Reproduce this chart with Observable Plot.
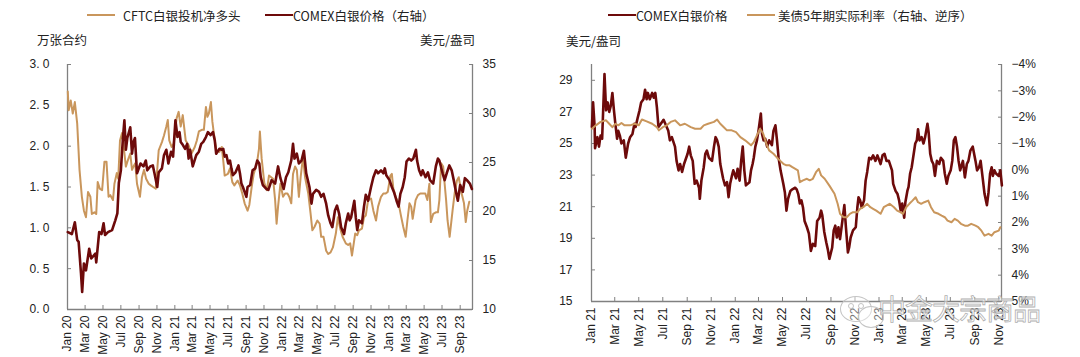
<!DOCTYPE html>
<html><head><meta charset="utf-8">
<script src="https://cdn.jsdelivr.net/npm/d3@7"></script>
<script src="https://cdn.jsdelivr.net/npm/@observablehq/plot@0.6"></script>
<style>
body{margin:0;background:#fff;}
#wrap{position:relative;width:1080px;height:357px;overflow:hidden;font-family:"Noto Sans CJK SC",sans-serif;color:#222;}
.panel{position:absolute;top:0;width:540px;height:357px;}
.panel svg{position:absolute;left:0;top:0;}
.item{position:absolute;top:5px;height:20px;display:flex;align-items:center;font-size:12.5px;white-space:nowrap;}
.sw{display:inline-block;width:28px;height:2.5px;}
.unit{position:absolute;font-size:12.5px;white-space:nowrap;}
.wm{position:absolute;font-size:30px;color:rgba(255,255,255,0.5);-webkit-text-stroke:0.8px #b0b0b0;white-space:nowrap;letter-spacing:-1px;}
.bubble{position:absolute;border:1px solid #c4c4c4;border-radius:50%;background:rgba(255,255,255,0.4);}
.dot{position:absolute;width:4px;height:4px;border:1px solid #c4c4c4;border-radius:50%;}
</style></head>
<body><div id="wrap">
<div class="panel" id="p1" style="left:0"></div>
<div class="panel" id="p2" style="left:540px"></div>
</div>
<script>
// ---------- data ----------
const cftcNetLong = [["2020-01-02",2.67],["2020-01-05",2.44],["2020-01-12",2.56],["2020-01-19",2.40],["2020-01-26",2.54],["2020-02-03",2.28],["2020-02-11",1.71],["2020-02-19",1.38],["2020-02-26",1.21],["2020-03-04",1.13],["2020-03-11",1.44],["2020-03-19",1.38],["2020-03-24",1.17],["2020-04-02",1.19],["2020-04-08",1.17],["2020-04-13",1.56],["2020-04-20",1.48],["2020-04-28",1.46],["2020-05-06",1.81],["2020-05-13",1.81],["2020-05-20",1.38],["2020-05-26",1.40],["2020-06-04",1.34],["2020-06-09",1.54],["2020-06-17",1.67],["2020-06-22",1.60],["2020-06-28",2.07],["2020-07-05",2.16],["2020-07-12",1.95],["2020-07-18",1.75],["2020-07-25",1.83],["2020-08-02",1.91],["2020-08-08",1.71],["2020-08-13",1.75],["2020-08-19",1.79],["2020-08-25",1.54],["2020-09-04",1.38],["2020-09-11",1.62],["2020-09-18",1.71],["2020-09-25",1.60],["2020-10-04",1.54],["2020-10-11",1.52],["2020-10-19",1.50],["2020-10-28",1.48],["2020-11-07",1.95],["2020-11-18",2.05],["2020-11-25",2.13],["2020-12-03",2.24],["2020-12-08",2.32],["2020-12-13",2.07],["2020-12-21",1.99],["2020-12-28",2.03],["2021-01-07",2.34],["2021-01-14",2.42],["2021-01-21",2.24],["2021-01-28",2.38],["2021-02-07",2.07],["2021-02-17",2.01],["2021-02-27",1.91],["2021-03-10",1.99],["2021-03-17",2.07],["2021-03-24",2.18],["2021-04-03",2.20],["2021-04-10",2.20],["2021-04-17",2.48],["2021-04-22",2.36],["2021-04-27",2.40],["2021-05-04",2.54],["2021-05-09",2.30],["2021-05-14",2.16],["2021-05-22",1.95],["2021-06-02",1.93],["2021-06-10",1.99],["2021-06-15",1.83],["2021-06-20",1.64],["2021-07-01",1.66],["2021-07-08",1.73],["2021-07-16",1.56],["2021-07-23",1.52],["2021-08-03",1.58],["2021-08-11",1.52],["2021-08-19",1.42],["2021-08-27",1.30],["2021-09-06",1.21],["2021-09-12",1.28],["2021-09-20",1.50],["2021-09-27",1.66],["2021-10-08",1.79],["2021-10-15",1.97],["2021-10-18",2.18],["2021-10-24",1.85],["2021-11-02",1.55],["2021-11-11",1.46],["2021-11-18",1.64],["2021-12-02",1.60],["2021-12-09",1.34],["2021-12-14",1.05],["2021-12-19",1.26],["2021-12-27",1.54],["2022-01-05",1.38],["2022-01-12",1.42],["2022-01-20",1.42],["2022-01-26",1.38],["2022-02-02",1.30],["2022-02-08",1.66],["2022-02-15",1.75],["2022-02-21",1.71],["2022-02-28",1.38],["2022-03-06",1.62],["2022-03-14",1.87],["2022-03-21",1.62],["2022-04-01",1.42],["2022-04-09",1.17],["2022-04-15",0.97],["2022-04-22",1.01],["2022-05-02",1.09],["2022-05-10",1.05],["2022-05-15",0.89],["2022-05-23",0.89],["2022-06-01",0.72],["2022-06-08",0.68],["2022-06-16",0.70],["2022-06-24",0.76],["2022-07-04",0.93],["2022-07-11",1.13],["2022-07-19",0.99],["2022-07-27",0.89],["2022-08-07",0.81],["2022-08-15",0.79],["2022-08-22",0.81],["2022-08-28",0.66],["2022-09-08",0.93],["2022-09-15",0.91],["2022-09-21",0.97],["2022-10-01",0.99],["2022-10-08",1.13],["2022-10-14",1.15],["2022-10-22",1.34],["2022-11-01",1.36],["2022-11-09",1.21],["2022-11-18",1.09],["2022-11-25",1.26],["2022-12-05",1.38],["2022-12-13",1.42],["2022-12-21",1.42],["2022-12-28",1.44],["2023-01-06",1.64],["2023-01-11",1.66],["2023-01-16",1.48],["2023-01-24",1.38],["2023-02-03",1.30],["2023-02-11",1.15],["2023-02-19",1.01],["2023-02-27",0.89],["2023-03-05",1.09],["2023-03-12",1.30],["2023-03-18",1.26],["2023-03-23",1.11],["2023-04-02",1.34],["2023-04-10",1.40],["2023-04-18",1.42],["2023-04-26",1.42],["2023-05-05",1.42],["2023-05-12",1.34],["2023-05-19",1.54],["2023-05-24",1.07],["2023-06-01",1.17],["2023-06-10",1.19],["2023-06-17",1.19],["2023-06-22",1.34],["2023-06-28",1.79],["2023-07-05",1.75],["2023-07-10",1.54],["2023-07-15",1.34],["2023-07-20",1.09],["2023-07-27",0.89],["2023-08-06",1.21],["2023-08-13",1.42],["2023-08-21",1.58],["2023-08-27",1.62],["2023-09-06",1.42],["2023-09-14",1.30],["2023-09-20",1.07],["2023-09-25",1.21],["2023-10-02",1.32]];

const comexPriceA = [["2020-01-02",17.9],["2020-01-16",17.7],["2020-01-26",18.9],["2020-02-03",17.1],["2020-02-08",16.9],["2020-02-16",13.7],["2020-02-20",11.8],["2020-02-26",14.7],["2020-03-04",14.0],["2020-03-15",16.2],["2020-03-22",15.2],["2020-04-05",15.7],["2020-04-08",14.8],["2020-04-18",17.9],["2020-04-26",17.7],["2020-05-03",18.8],["2020-05-08",17.6],["2020-05-18",17.9],["2020-06-01",18.1],["2020-06-12",19.1],["2020-06-19",19.8],["2020-06-24",22.9],["2020-07-01",24.2],["2020-07-08",27.5],["2020-07-13",29.3],["2020-07-18",26.3],["2020-07-23",27.5],["2020-08-02",28.6],["2020-08-08",25.9],["2020-08-13",27.1],["2020-08-18",27.5],["2020-08-25",23.9],["2020-09-06",24.9],["2020-09-16",24.6],["2020-09-24",25.2],["2020-09-29",24.2],["2020-10-09",24.6],["2020-10-18",24.7],["2020-10-25",23.7],["2020-11-02",22.5],["2020-11-07",24.0],["2020-11-18",24.4],["2020-11-25",25.75],["2020-12-03",26.3],["2020-12-10",24.9],["2020-12-19",26.1],["2020-12-26",25.6],["2021-01-03",29.3],["2021-01-10",27.6],["2021-01-17",28.1],["2021-01-21",27.1],["2021-01-28",26.8],["2021-02-05",26.4],["2021-02-12",26.9],["2021-02-17",25.4],["2021-02-22",26.3],["2021-03-03",24.6],["2021-03-08",25.1],["2021-03-15",25.75],["2021-03-24",26.1],["2021-04-01",26.9],["2021-04-08",27.1],["2021-04-17",27.6],["2021-04-24",28.1],["2021-05-03",27.8],["2021-05-11",28.1],["2021-05-17",27.3],["2021-05-22",25.9],["2021-06-02",26.4],["2021-06-10",26.3],["2021-06-15",26.4],["2021-06-20",25.6],["2021-06-26",25.75],["2021-07-02",24.9],["2021-07-08",25.2],["2021-07-13",24.4],["2021-07-18",23.7],["2021-07-27",24.0],["2021-08-06",24.7],["2021-08-11",23.9],["2021-08-16",22.85],["2021-08-21",22.5],["2021-09-02",21.5],["2021-09-06",22.5],["2021-09-15",22.7],["2021-09-23",24.2],["2021-10-02",24.4],["2021-10-09",25.2],["2021-10-16",24.9],["2021-10-21",23.5],["2021-10-28",22.7],["2021-11-09",22.3],["2021-11-16",22.2],["2021-11-27",23.2],["2021-12-09",22.85],["2021-12-19",24.6],["2021-12-27",23.4],["2022-01-07",22.3],["2022-01-15",23.5],["2022-01-23",24.0],["2022-02-02",25.2],["2022-02-08",26.9],["2022-02-13",25.4],["2022-02-21",25.9],["2022-02-28",24.9],["2022-03-09",25.2],["2022-03-17",26.2],["2022-03-25",23.9],["2022-04-05",22.5],["2022-04-12",20.8],["2022-04-17",21.8],["2022-04-28",22.2],["2022-05-08",22.0],["2022-05-15",21.5],["2022-05-23",21.8],["2022-06-01",20.8],["2022-06-08",19.6],["2022-06-16",18.8],["2022-06-22",18.4],["2022-07-01",20.1],["2022-07-08",20.6],["2022-07-15",19.8],["2022-07-22",18.4],["2022-08-01",17.7],["2022-08-07",18.8],["2022-08-15",19.8],["2022-08-20",19.1],["2022-08-25",19.4],["2022-09-05",21.1],["2022-09-10",19.4],["2022-09-15",18.1],["2022-09-21",19.1],["2022-10-01",18.8],["2022-10-08",20.5],["2022-10-14",21.7],["2022-10-22",21.1],["2022-11-01",22.5],["2022-11-09",23.5],["2022-11-18",24.2],["2022-11-25",23.9],["2022-12-05",24.2],["2022-12-13",23.9],["2022-12-18",24.4],["2022-12-23",23.7],["2023-01-03",23.2],["2023-01-11",22.5],["2023-01-18",22.0],["2023-01-27",21.1],["2023-02-03",20.5],["2023-02-09",21.8],["2023-02-17",22.5],["2023-02-24",23.5],["2023-03-02",25.1],["2023-03-10",25.4],["2023-03-18",25.2],["2023-03-25",25.4],["2023-04-03",26.3],["2023-04-07",25.2],["2023-04-14",24.2],["2023-04-21",23.7],["2023-04-26",24.2],["2023-05-06",23.5],["2023-05-14",24.0],["2023-05-21",23.2],["2023-06-01",22.85],["2023-06-10",24.6],["2023-06-17",25.4],["2023-06-22",25.2],["2023-07-03",23.9],["2023-07-10",23.2],["2023-07-17",23.9],["2023-07-26",24.7],["2023-08-03",24.2],["2023-08-10",23.2],["2023-08-19",21.8],["2023-08-24",21.1],["2023-09-01",22.7],["2023-09-10",22.0],["2023-09-17",23.4],["2023-09-24",23.2],["2023-10-04",22.85],["2023-10-11",22.3]];

const comexPriceB = [["2021-01-02",26.05],["2021-01-05",27.6],["2021-01-09",26.05],["2021-01-10",24.7],["2021-01-16",25.4],["2021-01-20",24.8],["2021-01-24",25.5],["2021-01-28",25.3],["2021-02-03",29.4],["2021-02-07",27.1],["2021-02-11",27.6],["2021-02-15",27.0],["2021-02-19",27.4],["2021-02-23",28.2],["2021-02-27",27.1],["2021-03-03",26.15],["2021-03-07",25.3],["2021-03-10",25.8],["2021-03-14",25.5],["2021-03-18",25.0],["2021-03-24",25.2],["2021-03-29",24.1],["2021-04-04",25.0],["2021-04-09",25.4],["2021-04-15",25.6],["2021-04-20",26.25],["2021-04-23",26.05],["2021-04-28",26.6],["2021-05-03",27.1],["2021-05-07",27.6],["2021-05-13",27.8],["2021-05-17",28.4],["2021-05-21",27.8],["2021-05-24",28.2],["2021-05-29",27.8],["2021-06-04",28.2],["2021-06-08",27.9],["2021-06-12",28.2],["2021-06-16",27.3],["2021-06-20",26.05],["2021-06-26",26.25],["2021-07-03",26.5],["2021-07-09",26.15],["2021-07-15",25.8],["2021-07-19",25.2],["2021-07-24",25.4],["2021-08-01",24.8],["2021-08-05",23.9],["2021-08-10",23.3],["2021-08-14",23.7],["2021-08-19",23.2],["2021-08-24",23.7],["2021-09-02",24.35],["2021-09-06",24.8],["2021-09-10",24.25],["2021-09-15",23.9],["2021-09-20",22.45],["2021-09-25",22.65],["2021-10-01",22.2],["2021-10-03",21.5],["2021-10-07",22.65],["2021-10-13",23.5],["2021-10-17",24.35],["2021-10-21",24.55],["2021-10-26",24.1],["2021-11-03",23.9],["2021-11-08",24.8],["2021-11-12",25.4],["2021-11-16",25.2],["2021-11-20",24.8],["2021-11-24",23.7],["2021-12-01",22.8],["2021-12-06",22.35],["2021-12-11",22.55],["2021-12-15",21.6],["2021-12-19",22.45],["2021-12-23",22.9],["2021-12-27",23.3],["2022-01-03",22.8],["2022-01-07",23.4],["2022-01-12",22.65],["2022-01-16",23.9],["2022-01-20",24.8],["2022-01-24",23.3],["2022-01-28",22.35],["2022-02-06",22.55],["2022-02-10",23.3],["2022-02-14",23.7],["2022-02-17",24.1],["2022-02-21",24.8],["2022-02-25",25.2],["2022-03-01",25.8],["2022-03-07",26.9],["2022-03-10",25.6],["2022-03-14",25.2],["2022-03-18",25.3],["2022-03-23",24.8],["2022-03-28",25.2],["2022-04-04",24.9],["2022-04-08",25.8],["2022-04-13",26.15],["2022-04-17",25.2],["2022-04-21",24.1],["2022-04-26",23.3],["2022-05-03",22.45],["2022-05-07",21.9],["2022-05-11",20.75],["2022-05-15",21.5],["2022-05-21",22.0],["2022-05-26",22.1],["2022-06-02",22.2],["2022-06-06",22.1],["2022-06-10",21.8],["2022-06-14",21.2],["2022-06-18",21.4],["2022-06-22",20.95],["2022-06-26",20.1],["2022-07-02",19.7],["2022-07-07",19.3],["2022-07-12",18.2],["2022-07-17",18.65],["2022-07-23",18.5],["2022-07-28",20.1],["2022-08-03",20.3],["2022-08-07",20.75],["2022-08-10",20.45],["2022-08-15",19.4],["2022-08-20",18.75],["2022-08-24",18.3],["2022-08-28",17.7],["2022-09-04",18.4],["2022-09-08",19.5],["2022-09-12",19.8],["2022-09-16",19.05],["2022-09-20",19.7],["2022-09-24",18.95],["2022-10-01",20.3],["2022-10-05",21.1],["2022-10-09",19.7],["2022-10-14",18.1],["2022-10-17",18.4],["2022-10-21",19.05],["2022-10-27",19.5],["2022-11-03",19.7],["2022-11-07",20.95],["2022-11-10",21.6],["2022-11-14",21.4],["2022-11-18",20.95],["2022-11-24",21.4],["2022-11-28",22.65],["2022-12-02",23.2],["2022-12-07",24.1],["2022-12-12",24.0],["2022-12-17",24.25],["2022-12-23",23.9],["2022-12-28",24.25],["2023-01-05",23.7],["2023-01-10",24.25],["2023-01-15",24.35],["2023-01-20",23.9],["2023-01-26",23.9],["2023-02-03",23.3],["2023-02-06",22.45],["2023-02-12",22.0],["2023-02-17",21.8],["2023-02-21",21.4],["2023-02-25",20.75],["2023-03-01",21.2],["2023-03-06",20.3],["2023-03-09",21.3],["2023-03-14",22.0],["2023-03-17",22.25],["2023-03-21",23.1],["2023-03-25",23.5],["2023-04-03",25.0],["2023-04-07",25.2],["2023-04-10",25.9],["2023-04-14",25.2],["2023-04-19",25.4],["2023-04-24",25.0],["2023-04-28",25.4],["2023-05-04",26.25],["2023-05-07",25.7],["2023-05-11",24.35],["2023-05-15",23.9],["2023-05-19",23.7],["2023-05-23",22.95],["2023-05-28",23.9],["2023-06-03",23.7],["2023-06-07",24.1],["2023-06-13",23.9],["2023-06-17",23.1],["2023-06-22",22.45],["2023-06-26",22.95],["2023-07-02",23.3],["2023-07-06",23.9],["2023-07-10",25.2],["2023-07-14",25.4],["2023-07-18",24.8],["2023-07-22",23.9],["2023-07-26",23.3],["2023-08-02",23.9],["2023-08-07",22.85],["2023-08-12",23.7],["2023-08-16",23.9],["2023-08-21",24.55],["2023-08-27",24.8],["2023-09-03",23.9],["2023-09-07",23.3],["2023-09-12",23.5],["2023-09-16",23.9],["2023-09-22",22.65],["2023-09-26",21.8],["2023-10-02",21.1],["2023-10-06",21.9],["2023-10-10",23.1],["2023-10-14",23.5],["2023-10-17",22.95],["2023-10-21",23.3],["2023-10-25",23.1],["2023-11-01",22.95],["2023-11-05",23.3],["2023-11-09",22.35]];

const realRate5y = [["2021-01-02",-1.56],["2021-01-12",-1.69],["2021-01-24",-1.82],["2021-02-07",-1.88],["2021-02-15",-1.75],["2021-02-23",-1.62],["2021-03-03",-1.75],["2021-03-10",-1.69],["2021-03-18",-1.78],["2021-03-26",-1.69],["2021-04-09",-1.69],["2021-04-21",-1.75],["2021-05-01",-1.69],["2021-05-09",-1.91],["2021-05-21",-1.84],["2021-06-04",-1.75],["2021-06-16",-1.62],["2021-06-21",-1.50],["2021-07-01",-1.62],["2021-07-11",-1.69],["2021-07-21",-1.82],["2021-08-01",-1.88],["2021-08-14",-1.69],["2021-08-26",-1.75],["2021-09-10",-1.62],["2021-09-21",-1.56],["2021-10-05",-1.56],["2021-10-13",-1.69],["2021-10-24",-1.75],["2021-11-08",-1.82],["2021-11-16",-1.91],["2021-11-24",-1.75],["2021-12-03",-1.62],["2021-12-11",-1.50],["2021-12-23",-1.50],["2022-01-03",-1.43],["2022-01-14",-1.24],["2022-01-26",-1.12],["2022-02-10",-0.93],["2022-02-17",-1.05],["2022-02-25",-1.31],["2022-03-05",-1.56],["2022-03-13",-1.37],["2022-03-21",-0.99],["2022-03-28",-0.74],["2022-04-08",-0.61],["2022-04-16",-0.48],["2022-04-24",-0.36],["2022-05-03",-0.23],["2022-05-11",-0.17],["2022-05-19",-0.17],["2022-05-26",-0.10],["2022-06-09",0.02],["2022-06-14",0.47],["2022-06-22",0.40],["2022-07-02",0.34],["2022-07-09",0.40],["2022-07-17",0.34],["2022-07-25",0.09],["2022-08-01",-0.04],["2022-08-07",0.21],["2022-08-16",0.34],["2022-08-28",0.60],["2022-09-10",0.91],["2022-09-18",1.29],["2022-09-24",1.67],["2022-10-03",1.80],["2022-10-11",1.80],["2022-10-19",1.67],["2022-10-27",1.61],["2022-11-07",1.61],["2022-11-14",1.48],["2022-11-22",1.42],["2022-12-02",1.29],["2022-12-10",1.42],["2022-12-17",1.48],["2022-12-25",1.55],["2023-01-05",1.67],["2023-01-13",1.42],["2023-01-20",1.36],["2023-01-28",1.29],["2023-02-08",1.42],["2023-02-16",1.55],["2023-02-24",1.61],["2023-03-03",1.67],["2023-03-11",1.42],["2023-03-19",1.29],["2023-03-27",1.17],["2023-04-04",1.04],["2023-04-10",1.23],["2023-04-18",1.29],["2023-04-26",1.23],["2023-05-06",1.17],["2023-05-13",1.42],["2023-05-21",1.61],["2023-06-01",1.67],["2023-06-09",1.74],["2023-06-17",1.80],["2023-06-24",1.93],["2023-07-04",1.99],["2023-07-12",1.86],["2023-07-20",1.93],["2023-07-28",2.05],["2023-08-07",2.12],["2023-08-15",2.12],["2023-08-23",2.05],["2023-09-03",2.12],["2023-09-10",2.18],["2023-09-18",2.31],["2023-09-26",2.50],["2023-10-06",2.43],["2023-10-14",2.50],["2023-10-21",2.37],["2023-11-01",2.31],["2023-11-05",2.18]];

const cftcTicks = [0, 0.5, 1, 1.5, 2, 2.5, 3];
const priceTicksA = [10, 15, 20, 25, 30, 35];
const priceTicksB = [15, 17, 19, 21, 23, 25, 27, 29];
const rateTicks = [-4, -3, -2, -1, 0, 1, 2, 3, 4, 5];
const xDomainA = ["2020-01-01", "2023-10-13"];
const xDomainB = ["2021-01-01", "2023-11-08"];
const xTicksA = d3.utcMonth.every(2).range(new Date("2020-01-01"), new Date("2023-09-02"));
const xTicksB = d3.utcMonth.every(2).range(new Date("2021-01-01"), new Date("2023-11-02"));

const legendA = ["CFTC白银投机净多头", "COMEX白银价格（右轴）"];
const legendB = ["COMEX白银价格", "美债5年期实际利率（右轴、逆序）"];
const unitsA = ["万张合约", "美元/盎司"];
const unitsB = ["美元/盎司"];
const watermark = "中金大宗商品";

// ---------- style ----------
const orange = "#c9965c", dark = "#6d0a0a", gray = "#808080", ink = "#222";
const tbl = arr => arr.map(([d, v]) => ({date: new Date(d), v}));
const monthFmt = d3.utcFormat("%b %y");
const plotStyle = {fontSize: "12px", fontFamily: "'Liberation Sans', Arial, sans-serif", color: ink, background: "transparent", overflow: "visible"};

// ---------- left panel ----------
{
  const cftcDom = [0, 3], pDom = [10, 35];
  const toL = p => (p - pDom[0]) / (pDom[1] - pDom[0]) * (cftcDom[1] - cftcDom[0]) + cftcDom[0];
  const fromL = v => (v - cftcDom[0]) / (cftcDom[1] - cftcDom[0]) * (pDom[1] - pDom[0]) + pDom[0];
  const xd = xDomainA.map(d => new Date(d));
  const chart = Plot.plot({
    width: 540, height: 357,
    marginLeft: 67, marginRight: 68, marginTop: 64, marginBottom: 48,
    style: plotStyle,
    x: {type: "utc", domain: xd},
    y: {domain: cftcDom},
    marks: [
      Plot.ruleY([cftcDom[0]], {stroke: gray, strokeWidth: 1.3}),
      Plot.ruleX([xd[0]], {stroke: gray, strokeWidth: 1.3}),
      Plot.ruleX([xd[1]], {stroke: gray, strokeWidth: 1.3}),
      Plot.axisY({anchor: "left", ticks: cftcTicks, tickSize: -4, tickPadding: 22, label: null,
        tickFormat: d => d.toFixed(1).replace(".", ". "), stroke: gray, fill: ink}),
      Plot.axisY({anchor: "right", ticks: priceTicksA.map(toL), tickSize: -4, tickPadding: 14, label: null,
        tickFormat: v => String(Math.round(fromL(v))), stroke: gray, fill: ink}),
      Plot.axisX({ticks: xTicksA, tickFormat: monthFmt, tickRotate: -90, tickSize: -4, tickPadding: 10, label: null,
        stroke: gray, fill: ink}),
      Plot.line(tbl(cftcNetLong), {x: "date", y: "v", stroke: orange, strokeWidth: 2, strokeLinejoin: "round"}),
      Plot.line(tbl(comexPriceA), {x: "date", y: d => toL(d.v), stroke: dark, strokeWidth: 2.6, strokeLinejoin: "round"})
    ]
  });
  const p = document.getElementById("p1");
  p.appendChild(chart);
  p.insertAdjacentHTML("beforeend",
    `<div class="item" style="left:87px"><span class="sw" style="background:${orange}"></span><span style="margin-left:8px">${legendA[0]}</span></div>
     <div class="item" style="left:265px"><span class="sw" style="background:${dark}"></span><span>${legendA[1]}</span></div>
     <div class="unit" style="left:37px;top:30px">${unitsA[0]}</div>
     <div class="unit" style="left:420px;top:30px">${unitsA[1]}</div>`);
}

// ---------- right panel ----------
{
  const pDom = [15, 30], rDom = [-4, 5];
  const toP = r => pDom[1] - (r - rDom[0]) / (rDom[1] - rDom[0]) * (pDom[1] - pDom[0]);
  const fromP = v => rDom[0] + (pDom[1] - v) / (pDom[1] - pDom[0]) * (rDom[1] - rDom[0]);
  const xd = xDomainB.map(d => new Date(d));
  const chart = Plot.plot({
    width: 540, height: 357,
    marginLeft: 51, marginRight: 79, marginTop: 64, marginBottom: 56,
    style: plotStyle,
    x: {type: "utc", domain: xd},
    y: {domain: pDom},
    marks: [
      Plot.ruleY([pDom[0]], {stroke: gray, strokeWidth: 1.3}),
      Plot.ruleX([xd[0]], {stroke: gray, strokeWidth: 1.3}),
      Plot.ruleX([xd[1]], {stroke: gray, strokeWidth: 1.3}),
      Plot.axisY({anchor: "left", ticks: priceTicksB, tickSize: -4, tickPadding: 23, label: null,
        tickFormat: d => String(d), stroke: gray, fill: ink}),
      Plot.axisY({anchor: "right", ticks: rateTicks.map(toP), tickSize: -4, tickPadding: 14, label: null,
        tickFormat: v => { const r = Math.round(fromP(v)); return (r < 0 ? "\u2212" + (-r) : r) + "%"; }, stroke: gray, fill: ink}),
      Plot.axisX({ticks: xTicksB, tickFormat: monthFmt, tickRotate: -90, tickSize: -4, tickPadding: 10, label: null,
        stroke: gray, fill: ink}),
      Plot.line(tbl(comexPriceB), {x: "date", y: "v", stroke: dark, strokeWidth: 2.6, strokeLinejoin: "round"}),
      Plot.line(tbl(realRate5y), {x: "date", y: d => toP(d.v), stroke: orange, strokeWidth: 2, strokeLinejoin: "round"})
    ]
  });
  const p = document.getElementById("p2");
  p.appendChild(chart);
  p.insertAdjacentHTML("beforeend",
    `<div class="item" style="left:68px"><span class="sw" style="background:${dark}"></span><span>${legendB[0]}</span></div>
     <div class="item" style="left:207px"><span class="sw" style="background:${orange}"></span><span style="margin-left:3px">${legendB[1]}</span></div>
     <div class="unit" style="left:26px;top:31px">${unitsB[0]}</div>
     <div class="bubble" style="left:300px;top:296px;width:30px;height:24px"></div>
     <div class="bubble" style="left:318px;top:306px;width:24px;height:20px"></div>
     <div class="dot" style="left:308px;top:303px"></div><div class="dot" style="left:318px;top:303px"></div>
     <div class="wm" style="left:338px;top:288px;font-size:28px">${watermark}</div>`);
}
</script>
</body></html>
